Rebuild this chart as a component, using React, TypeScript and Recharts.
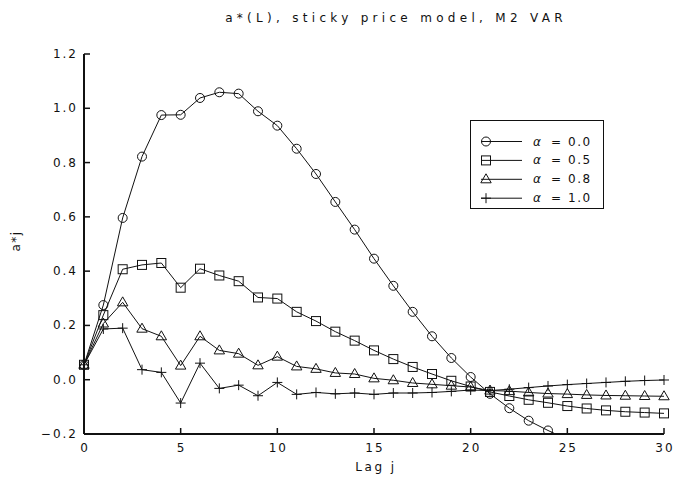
import React from 'react';
import { LineChart, Line, XAxis, YAxis, Legend } from 'recharts';

const lags = [0, 1, 2, 3, 4, 5, 6, 7, 8, 9, 10, 11, 12, 13, 14, 15, 16, 17, 18, 19, 20, 21, 22, 23, 24, 25, 26, 27, 28, 29, 30];

const alpha00 = [0.055, 0.275, 0.596, 0.822, 0.975, 0.976, 1.038, 1.059, 1.054, 0.989, 0.936, 0.851, 0.758, 0.655, 0.553, 0.446, 0.346, 0.25, 0.16, 0.08, 0.01, -0.052, -0.105, -0.151, -0.187, -0.22, null, null, null, null, null];
const alpha05 = [0.055, 0.238, 0.407, 0.423, 0.43, 0.339, 0.409, 0.384, 0.363, 0.303, 0.299, 0.25, 0.216, 0.177, 0.144, 0.108, 0.076, 0.047, 0.021, -0.004, -0.025, -0.045, -0.06, -0.074, -0.085, -0.097, -0.106, -0.113, -0.118, -0.121, -0.124];
const alpha08 = [0.055, 0.207, 0.285, 0.188, 0.16, 0.052, 0.16, 0.108, 0.096, 0.053, 0.085, 0.049, 0.04, 0.025, 0.021, 0.005, -0.002, -0.012, -0.017, -0.022, -0.027, -0.04, -0.042, -0.047, -0.051, -0.053, -0.056, -0.058, -0.059, -0.06, -0.061];
const alpha10 = [0.055, 0.187, 0.19, 0.037, 0.027, -0.086, 0.061, -0.032, -0.02, -0.059, -0.01, -0.054, -0.047, -0.052, -0.049, -0.054, -0.049, -0.049, -0.047, -0.043, -0.038, -0.04, -0.035, -0.029, -0.023, -0.018, -0.014, -0.01, -0.006, -0.003, -0.001];

const xTicks = [0, 5, 10, 15, 20, 25, 30];
const yTicks = [-0.2, 0, 0.2, 0.4, 0.6, 0.8, 1.0, 1.2];

const seriesAlphas = ['0.0', '0.5', '0.8', '1.0'];
const seriesKeys = ['a00', 'a05', 'a08', 'a10'];
const seriesShapes = ['circle', 'square', 'triangle', 'plus'];

const data = lags.map((lag, i) => ({
  lag,
  a00: alpha00[i],
  a05: alpha05[i],
  a08: alpha08[i],
  a10: alpha10[i],
}));

const FONT = '"DejaVu Sans", sans-serif';
const INK = '#111';

function Marker({ shape, cx, cy }: { shape: string; cx: number; cy: number }) {
  const s = 4.5;
  if (shape === 'circle') return <circle cx={cx} cy={cy} r={s} fill="none" stroke={INK} strokeWidth={1} />;
  if (shape === 'square') return <rect x={cx - s} y={cy - s} width={2 * s} height={2 * s} fill="none" stroke={INK} strokeWidth={1} />;
  if (shape === 'triangle')
    return (
      <polygon
        points={`${cx},${cy - 5.5} ${cx - 5.2},${cy + 3.5} ${cx + 5.2},${cy + 3.5}`}
        fill="none"
        stroke={INK}
        strokeWidth={1}
      />
    );
  return (
    <g>
      <line x1={cx - 5} x2={cx + 5} y1={cy} y2={cy} stroke={INK} strokeWidth={1} />
      <line x1={cx} x2={cx} y1={cy - 5} y2={cy + 5} stroke={INK} strokeWidth={1} />
    </g>
  );
}

const makeDot = (shape: string) => (props: any) => {
  const { cx, cy, index, value } = props;
  if (cx == null || cy == null || value == null || Number.isNaN(cy)) return <g key={`d-${shape}-${index}`} />;
  return (
    <g key={`d-${shape}-${index}`}>
      <Marker shape={shape} cx={cx} cy={cy} />
    </g>
  );
};

const XTick = (props: any) => {
  const { x, y, payload } = props;
  const axisY = y - 8;
  return (
    <g>
      <line x1={x} x2={x} y1={axisY} y2={axisY - 6} stroke={INK} strokeWidth={1.5} />
      <text
        x={x + 1}
        y={axisY + 14}
        textAnchor="middle"
        dominantBaseline="central"
        fontFamily={FONT}
        fontSize={12}
        letterSpacing={2}
        fill={INK}
      >
        {payload.value}
      </text>
    </g>
  );
};

const YTick = (props: any) => {
  const { x, y, payload } = props;
  const axisX = x + 8;
  const v = Number(payload.value);
  const label = (v < 0 ? '−' : '') + Math.abs(v).toFixed(1);
  return (
    <g>
      <line x1={axisX} x2={axisX + 6} y1={y} y2={y} stroke={INK} strokeWidth={1.5} />
      <text
        x={axisX - 6}
        y={y}
        textAnchor="end"
        dominantBaseline="central"
        fontFamily={FONT}
        fontSize={12}
        letterSpacing={2}
        fill={INK}
      >
        {label}
      </text>
    </g>
  );
};

const LegendBox = (props: any) => {
  const payload = props.payload || [];
  return (
    <svg width={134} height={90} style={{ display: 'block' }}>
      <rect x={0.5} y={0.5} width={133} height={88} fill="#fff" stroke={INK} strokeWidth={1} />
      {payload.map((entry: any, i: number) => {
        const idx = seriesKeys.indexOf(entry.dataKey);
        const yy = 21.5 + i * 18.9;
        return (
          <g key={`lg-${i}`}>
            <line x1={11} x2={52} y1={yy} y2={yy} stroke={INK} strokeWidth={1} />
            <Marker shape={seriesShapes[idx]} cx={16} cy={yy} />
            <text x={63} y={yy} dominantBaseline="central" fontFamily={FONT} fontSize={12} fontStyle="italic" fill={INK}>
              α
            </text>
            <text x={81} y={yy} dominantBaseline="central" fontFamily={FONT} fontSize={12} fill={INK}>
              =
            </text>
            <text x={98} y={yy} dominantBaseline="central" fontFamily={FONT} fontSize={12} letterSpacing={1.5} fill={INK}>
              {seriesAlphas[idx]}
            </text>
          </g>
        );
      })}
    </svg>
  );
};

const YLabel = () => (
  <text
    x={16}
    y={241}
    transform="rotate(-90 16 241)"
    textAnchor="middle"
    dominantBaseline="central"
    fontFamily={FONT}
    fontSize={12}
    letterSpacing={1.5}
    fill={INK}
  >
    a*j
  </text>
);

const XLabel = () => (
  <text
    x={376}
    y={467}
    textAnchor="middle"
    dominantBaseline="central"
    fontFamily={FONT}
    fontSize={12}
    letterSpacing={2.5}
    fill={INK}
  >
    Lag j
  </text>
);

export default function App() {
  return (
    <div style={{ position: 'fixed', left: 0, top: 0, width: 675, height: 489, background: '#fff' }}>
      <div
        style={{
          position: 'absolute',
          left: 196,
          top: 10,
          width: 400,
          textAlign: 'center',
          fontFamily: FONT,
          fontSize: 12,
          letterSpacing: 4.3,
          lineHeight: '16px',
          color: INK,
          whiteSpace: 'nowrap',
        }}
      >
        a*(L), sticky price model, M2 VAR
      </div>
      <LineChart
        width={675}
        height={489}
        data={data}
        margin={{ top: 54, right: 11, bottom: 25, left: 24 }}
      >
        <XAxis
          dataKey="lag"
          type="number"
          domain={[0, 30]}
          ticks={xTicks}
          axisLine={{ stroke: INK, strokeWidth: 2 }}
          tickLine={false}
          tick={<XTick />}
          height={30}
          interval={0}
          label={<XLabel />}
        />
        <YAxis
          type="number"
          domain={[-0.2, 1.2]}
          ticks={yTicks}
          allowDataOverflow
          axisLine={{ stroke: INK, strokeWidth: 2 }}
          tickLine={false}
          tick={<YTick />}
          width={60}
          interval={0}
          label={<YLabel />}
        />
        <Legend
          layout="horizontal"
          verticalAlign="middle"
          align="center"
          content={<LegendBox />}
          wrapperStyle={{ position: 'absolute', left: 470, top: 120, width: 134, height: 90 }}
        />
        {seriesKeys.map((k, i) => (
          <Line
            key={k}
            dataKey={k}
            name={`α = ${seriesAlphas[i]}`}
            stroke={INK}
            strokeWidth={1}
            dot={makeDot(seriesShapes[i])}
            activeDot={false}
            isAnimationActive={false}
            connectNulls={false}
            legendType="line"
          />
        ))}
      </LineChart>
    </div>
  );
}
